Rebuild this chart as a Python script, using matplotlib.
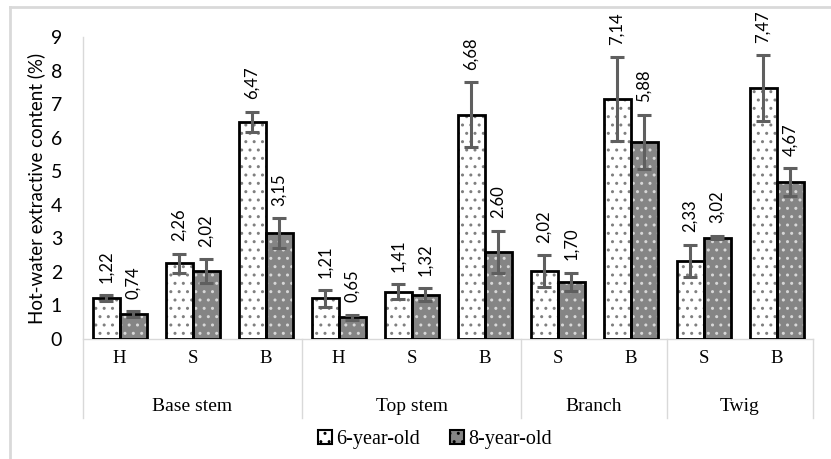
"""Hot-water extractive content by tree part and age."""

import matplotlib

matplotlib.use("Agg")

import matplotlib.pyplot as plt
import numpy as np
from matplotlib.lines import Line2D
from matplotlib.patches import Patch


SUB_LABELS = ["H", "S", "B", "H", "S", "B", "S", "B", "S", "B"]
GROUP_NAMES = ["Base stem", "Top stem", "Branch", "Twig"]
GROUP_SIZES = [3, 3, 2, 2]

AGE_6 = [1.22, 2.26, 6.47, 1.21, 1.41, 6.68, 2.02, 7.14, 2.33, 7.47]
AGE_8 = [0.74, 2.02, 3.15, 0.65, 1.32, 2.60, 1.70, 5.88, 3.02, 4.67]
ERR_6 = [0.08, 0.28, 0.30, 0.25, 0.22, 0.97, 0.48, 1.25, 0.48, 0.98]
ERR_8 = [0.08, 0.36, 0.45, 0.08, 0.20, 0.63, 0.27, 0.80, 0.05, 0.42]
TEXT_6 = ["1,22", "2,26", "6,47", "1,21", "1,41", "6,68", "2,02", "7,14", "2,33", "7,47"]
TEXT_8 = ["0,74", "2,02", "3,15", "0,65", "1,32", "2.60", "1,70", "5,88", "3,02", "4,67"]

SANS = ["Lato", "DejaVu Sans"]
SERIF = ["Liberation Serif", "DejaVu Serif"]


def draw_bars(ax, x, values, face, hatch_color):
    """Hatched fill first, then a thick black outline on top."""
    ax.bar(x, values, width=0.37, color=face, edgecolor=hatch_color,
           hatch="..", linewidth=0, zorder=2)
    ax.bar(x, values, width=0.37, fill=False, edgecolor="black",
           linewidth=2, zorder=3)


def main():
    fig = plt.figure(figsize=(8.31, 4.59), dpi=100)
    ax = fig.add_axes([0.0999, 0.2614, 0.8785, 0.6580])

    x = np.arange(len(SUB_LABELS))
    x6 = x - 0.185
    x8 = x + 0.185

    draw_bars(ax, x6, AGE_6, "white", "#7f7f7f")
    draw_bars(ax, x8, AGE_8, "#858585", "#d8d8d8")

    ax.errorbar(x6, AGE_6, yerr=ERR_6, fmt="none", ecolor="#5f5f5f",
                elinewidth=2.2, capsize=5, capthick=2.2, zorder=4)
    ax.errorbar(x8, AGE_8, yerr=ERR_8, fmt="none", ecolor="#5f5f5f",
                elinewidth=2.2, capsize=5, capthick=2.2, zorder=4)

    # value labels, rotated, just above the error bar
    for xs, vals, errs, texts in [(x6, AGE_6, ERR_6, TEXT_6),
                                  (x8, AGE_8, ERR_8, TEXT_8)]:
        for xi, v, e, t in zip(xs, vals, errs, texts):
            ax.annotate(t, (xi, v + e), xytext=(0, 9), textcoords="offset points",
                        rotation=90, ha="center", va="bottom",
                        fontsize=12, family=SANS, zorder=5)

    ax.set_xlim(-0.5, len(SUB_LABELS) - 0.5)
    ax.set_ylim(0, 9)
    ax.set_yticks(range(10))
    ax.tick_params(axis="y", length=0, pad=15, labelsize=14)
    for lbl in ax.get_yticklabels():
        lbl.set_family(SANS)
    ax.set_xticks(x)
    ax.set_xticklabels(SUB_LABELS, family=SERIF, fontsize=13.5)
    ax.tick_params(axis="x", length=0, pad=8)

    ax.set_ylabel("Hot-water extractive content (%)", family=SANS,
                  fontsize=13.5, labelpad=4)

    for side in ["top", "right", "left"]:
        ax.spines[side].set_visible(False)
    ax.spines["bottom"].set_color("#d9d9d9")
    ax.spines["bottom"].set_linewidth(1)

    # group separators and group names below the axis
    trans = ax.get_xaxis_transform()
    ax.plot([-0.5, -0.5], [-0.262, 1.0], color="#d9d9d9", lw=1,
            transform=trans, clip_on=False)
    start = -0.5
    for name, size in zip(GROUP_NAMES, GROUP_SIZES):
        end = start + size
        ax.plot([end, end], [-0.262, 0], color="#d9d9d9", lw=1,
                transform=trans, clip_on=False)
        ax.text((start + end) / 2, -0.225, name, transform=trans,
                ha="center", va="center", family=SERIF, fontsize=14)
        start = end

    handles = [
        Patch(facecolor="white", edgecolor="black", hatch="..", linewidth=1.5),
        Patch(facecolor="#858585", edgecolor="black", hatch="..", linewidth=1.5),
    ]
    fig.legend(handles, ["6-year-old", "8-year-old"], loc="center",
               bbox_to_anchor=(0.523, 0.042), ncol=2, frameon=False,
               prop={"family": SERIF, "size": 14.5}, handlelength=0.7,
               handleheight=0.7, handletextpad=0.2, columnspacing=1.5)

    # light outer frame (only top and left visible in the original crop)
    fig.add_artist(Line2D([10 / 831, 1], [1 - 7 / 459, 1 - 7 / 459],
                          transform=fig.transFigure, color="#d9d9d9", lw=2))
    fig.add_artist(Line2D([10 / 831, 10 / 831], [0, 1 - 7 / 459],
                          transform=fig.transFigure, color="#d9d9d9", lw=2))

    fig.savefig("out.png", dpi=100)
    plt.close(fig)


if __name__ == "__main__":
    main()
